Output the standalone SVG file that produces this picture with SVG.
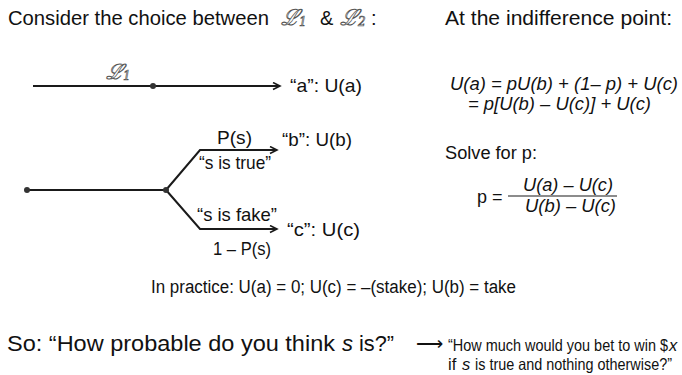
<svg xmlns="http://www.w3.org/2000/svg" width="682" height="375" viewBox="0 0 682 375">
<style>
text{font-family:"Liberation Sans",Arial,sans-serif;fill:#111}
.t20{font-size:20px}
.t19{font-size:19px}
.t18{font-size:18px}
.t16{font-size:16.5px}
.it{font-style:italic}
.scr{font-family:"DejaVu Serif",serif;font-style:italic;fill:#fff;stroke:#555;stroke-width:0.7}
.ln{fill:none;stroke:#1a1a1a;stroke-width:2}
.dot{fill:#333}
</style>
<defs>
<marker id="ah" markerWidth="10" markerHeight="10" refX="8" refY="4" orient="auto" markerUnits="userSpaceOnUse">
<path d="M1,0.5 L8,4 L1,7.5" fill="none" stroke="#1a1a1a" stroke-width="1.6"/>
</marker>
</defs>
<rect width="682" height="375" fill="#fff"/>
<g id="title">
<text class="t20" x="8" y="25" textLength="261" lengthAdjust="spacingAndGlyphs">Consider the choice between</text>
<text class="scr" x="281" y="25" font-size="22">ℒ<tspan font-size="12" dy="1">1</tspan></text>
<text class="t20" x="320" y="25">&amp;</text>
<text class="scr" x="340" y="25" font-size="22">ℒ<tspan font-size="12" dy="1">2</tspan></text>
<text class="t20" x="371" y="25">:</text>
</g>
<g id="connectors">
<line class="ln" x1="33" y1="86" x2="280" y2="86" marker-end="url(#ah)"/>
<line class="ln" x1="27" y1="190" x2="166" y2="190"/>
<polyline class="ln" points="166,190 200,150 277,150" marker-end="url(#ah)"/>
<polyline class="ln" points="166,190 200,229 277,229" marker-end="url(#ah)"/>
</g>
<g id="node-L1">
<circle class="dot" cx="153" cy="86" r="3"/>
<text class="scr" x="106" y="79" font-size="21">ℒ<tspan font-size="12" dy="1">1</tspan></text>
</g>
<g id="node-a">
<text class="t19" x="290" y="92" textLength="72" lengthAdjust="spacingAndGlyphs">“a”: U(a)</text>
</g>
<g id="node-start">
<circle class="dot" cx="27" cy="190" r="3"/>
</g>
<g id="node-L2">
<circle class="dot" cx="166" cy="190" r="3"/>
</g>
<g id="node-b">
<text class="t19" x="217" y="144" textLength="35" lengthAdjust="spacingAndGlyphs">P(s)</text>
<text class="t19" x="199" y="169" textLength="72" lengthAdjust="spacingAndGlyphs">“s is true”</text>
<text class="t19" x="282" y="146" textLength="70" lengthAdjust="spacingAndGlyphs">“b”: U(b)</text>
</g>
<g id="node-c">
<text class="t19" x="197" y="221" textLength="80" lengthAdjust="spacingAndGlyphs">“s is fake”</text>
<text class="t19" x="213" y="255" textLength="58" lengthAdjust="spacingAndGlyphs">1 – P(s)</text>
<text class="t19" x="287" y="236" textLength="73" lengthAdjust="spacingAndGlyphs">“c”: U(c)</text>
</g>
<g id="indifference">
<text class="t20" x="445" y="25" textLength="227" lengthAdjust="spacingAndGlyphs">At the indifference point:</text>
<text class="t18 it" x="450" y="90" textLength="228" lengthAdjust="spacingAndGlyphs">U(a) = pU(b) + (1– p) + U(c)</text>
<text class="t18 it" x="468" y="110" textLength="183" lengthAdjust="spacingAndGlyphs">= p[U(b) – U(c)] + U(c)</text>
</g>
<g id="solve">
<text class="t18" x="445" y="159" textLength="92" lengthAdjust="spacingAndGlyphs">Solve for p:</text>
<text class="t18" x="477" y="203">p =</text>
<line x1="508" y1="196" x2="617" y2="196" stroke="#1a1a1a" stroke-width="1.2"/>
<text class="t18 it" x="523" y="191" textLength="90" lengthAdjust="spacingAndGlyphs">U(a) – U(c)</text>
<text class="t18 it" x="525" y="212" textLength="91" lengthAdjust="spacingAndGlyphs">U(b) – U(c)</text>
</g>
<g id="practice">
<text class="t18" x="151" y="293" textLength="365" lengthAdjust="spacingAndGlyphs">In practice: U(a) = 0; U(c) = –(stake); U(b) = take</text>
</g>
<g id="so">
<text font-size="22" x="7" y="351" textLength="328" lengthAdjust="spacingAndGlyphs">So: “How probable do you think</text>
<text font-size="22" class="it" x="342" y="351">s</text>
<text font-size="22" x="359" y="351" textLength="35" lengthAdjust="spacingAndGlyphs">is?”</text>
<text class="t19" x="416" y="350">⟶</text>
<text class="t16" x="448" y="351" textLength="220" lengthAdjust="spacingAndGlyphs">“How much would you bet to win $</text>
<text class="t16 it" x="669" y="351">x</text>
<text class="t16" x="448" y="370">if</text>
<text class="t16 it" x="462" y="370">s</text>
<text class="t16" x="475" y="370" textLength="197" lengthAdjust="spacingAndGlyphs">is true and nothing otherwise?”</text>
</g>
</svg>
